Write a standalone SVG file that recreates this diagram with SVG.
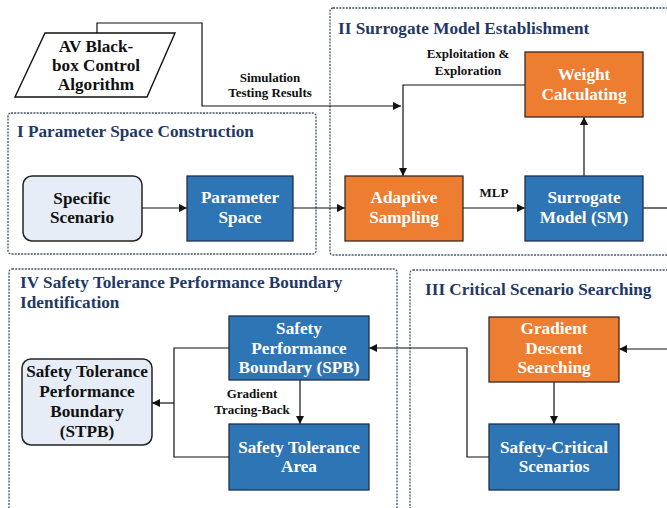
<svg xmlns="http://www.w3.org/2000/svg" width="667" height="508" viewBox="0 0 667 508" font-family="'Liberation Serif', 'Times New Roman', serif" font-weight="bold">
<defs>
<style>
.grp{fill:none;stroke:#44546a;stroke-width:1.3;stroke-dasharray:2 1.2}
.title{font-size:17.2px;fill:#1f3864}
.blue{fill:#2e75b6;stroke:#1f2f4f;stroke-width:1.3}
.orange{fill:#ed7d31;stroke:#3a2a20;stroke-width:1.3}
.light{fill:#e6edf6;stroke:#222;stroke-width:1.5}
.wt{font-size:17.2px;fill:#fff;text-anchor:middle}
.bt{font-size:17.2px;fill:#111;text-anchor:middle}
.lbl{font-size:13px;fill:#111;text-anchor:middle}
.conn{fill:none;stroke:#111;stroke-width:1.2}
</style>
<marker id="ah" viewBox="0 0 10 10" refX="10" refY="5" markerWidth="8" markerHeight="8" markerUnits="userSpaceOnUse" orient="auto">
<path d="M0,0 L10,5 L0,10 z" fill="#111"/>
</marker>
</defs>
<rect width="667" height="508" fill="#fff"/>

<g id="groups" font-family="Liberation Serif, serif">
<rect class="grp" x="8" y="113" width="308" height="141" rx="3"/>
<text class="title" x="17" y="137">I  Parameter Space Construction</text>
<rect class="grp" x="330" y="8" width="400" height="247" rx="3"/>
<text class="title" x="338" y="34">II  Surrogate Model Establishment</text>
<rect class="grp" x="9" y="269" width="388" height="260" rx="3"/>
<text class="title" x="20" y="288">IV  Safety Tolerance Performance Boundary</text>
<text class="title" x="20" y="308">Identification</text>
<rect class="grp" x="410" y="270" width="300" height="260" rx="3"/>
<text class="title" x="425" y="295">III  Critical Scenario Searching</text>
</g>

<g id="connectors" font-family="Liberation Serif, serif">
<path class="conn" d="M97,33 V23 H202 V106 H401" marker-end="url(#ah)"/>
<path class="conn" d="M525,85 H403 V176" marker-end="url(#ah)"/>
<path class="conn" d="M142,208 H187" marker-end="url(#ah)"/>
<path class="conn" d="M293,208 H345" marker-end="url(#ah)"/>
<path class="conn" d="M463,208 H525" marker-end="url(#ah)"/>
<path class="conn" d="M584,176 V117" marker-end="url(#ah)"/>
<path class="conn" d="M643,208 H667"/>
<path class="conn" d="M667,349 H619" marker-end="url(#ah)"/>
<path class="conn" d="M554,382 V424" marker-end="url(#ah)"/>
<path class="conn" d="M489,457 H467 V348 H369" marker-end="url(#ah)"/>
<path class="conn" d="M300,380 V424" marker-end="url(#ah)"/>
<path class="conn" d="M229,348 H174 V457 H229"/>
<path class="conn" d="M174,403 H152" marker-end="url(#ah)"/>
<text class="lbl" x="270" y="82">Simulation</text>
<text class="lbl" x="270" y="97">Testing Results</text>
<text class="lbl" x="468" y="58">Exploitation &amp;</text>
<text class="lbl" x="468" y="75">Exploration</text>
<text class="lbl" x="494" y="197">MLP</text>
<text class="lbl" x="252" y="398">Gradient</text>
<text class="lbl" x="252" y="414">Tracing-Back</text>
</g>

<g id="av-algorithm" font-family="Liberation Serif, serif">
<polygon points="45,33 175,33 147,97 15,97" fill="#fff" stroke="#111" stroke-width="1.4"/>
<text class="bt" x="96" y="52">AV Black-</text>
<text class="bt" x="96" y="71">box Control</text>
<text class="bt" x="96" y="90">Algorithm</text>
</g>

<g id="specific-scenario" font-family="Liberation Serif, serif">
<rect class="light" x="23" y="176" width="119" height="65" rx="9"/>
<text class="bt" x="82" y="204">Specific</text>
<text class="bt" x="82" y="223">Scenario</text>
</g>

<g id="parameter-space" font-family="Liberation Serif, serif">
<rect class="blue" x="187" y="176" width="106" height="65"/>
<text class="wt" x="240" y="203">Parameter</text>
<text class="wt" x="240" y="223">Space</text>
</g>

<g id="weight-calculating" font-family="Liberation Serif, serif">
<rect class="orange" x="525" y="52" width="118" height="65"/>
<text class="wt" x="584" y="80">Weight</text>
<text class="wt" x="584" y="100">Calculating</text>
</g>

<g id="adaptive-sampling" font-family="Liberation Serif, serif">
<rect class="orange" x="345" y="176" width="118" height="65"/>
<text class="wt" x="404" y="203">Adaptive</text>
<text class="wt" x="404" y="223">Sampling</text>
</g>

<g id="surrogate-model" font-family="Liberation Serif, serif">
<rect class="blue" x="525" y="176" width="118" height="65"/>
<text class="wt" x="584" y="203">Surrogate</text>
<text class="wt" x="584" y="223">Model (SM)</text>
</g>

<g id="spb" font-family="Liberation Serif, serif">
<rect class="blue" x="229" y="316" width="140" height="64"/>
<text class="wt" x="299" y="334">Safety</text>
<text class="wt" x="299" y="354">Performance</text>
<text class="wt" x="299" y="373">Boundary (SPB)</text>
</g>

<g id="safety-tolerance-area" font-family="Liberation Serif, serif">
<rect class="blue" x="229" y="424" width="140" height="66"/>
<text class="wt" x="299" y="453">Safety Tolerance</text>
<text class="wt" x="299" y="472">Area</text>
</g>

<g id="stpb" font-family="Liberation Serif, serif">
<rect class="light" x="22" y="359" width="130" height="86" rx="9"/>
<text class="bt" x="87" y="377">Safety Tolerance</text>
<text class="bt" x="87" y="397">Performance</text>
<text class="bt" x="87" y="417">Boundary</text>
<text class="bt" x="87" y="437">(STPB)</text>
</g>

<g id="gradient-descent" font-family="Liberation Serif, serif">
<rect class="orange" x="489" y="317" width="130" height="65"/>
<text class="wt" x="554" y="334">Gradient</text>
<text class="wt" x="554" y="354">Descent</text>
<text class="wt" x="554" y="373">Searching</text>
</g>

<g id="safety-critical" font-family="Liberation Serif, serif">
<rect class="blue" x="489" y="424" width="130" height="66"/>
<text class="wt" x="554" y="453">Safety-Critical</text>
<text class="wt" x="554" y="472">Scenarios</text>
</g>
</svg>
